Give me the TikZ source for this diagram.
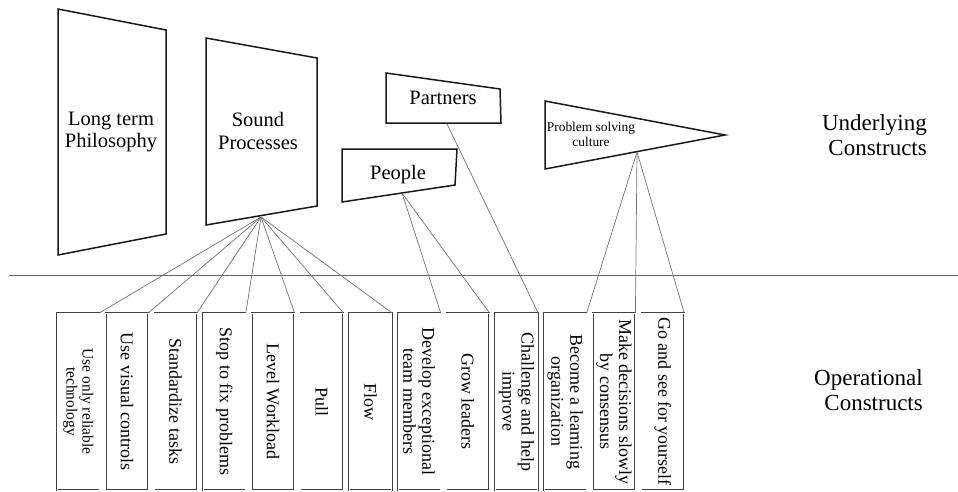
\documentclass[tikz,border=0pt]{standalone}
\usepackage{fontspec}
\setmainfont{Liberation Serif}
\begin{document}
\begin{tikzpicture}[x=1pt,y=-1pt,
  outline/.style={draw=black!90, line width=1.5pt, line join=miter},
  link/.style={draw=black!55, line width=0.7pt},
  divider/.style={draw=black!60, line width=0.9pt},
  bigtext/.style={align=center, inner sep=0pt, font=\fontsize{20.5}{22.5}\selectfont},
  sidetext/.style={align=right, inner sep=0pt, anchor=east, font=\fontsize{23}{25}\selectfont},
  opbox/.style={draw=black!75, line width=0.45pt, double=white, double distance=0.8pt,
                minimum width=42.5pt, minimum height=177pt, inner sep=0pt},
  optext/.style={rotate=-90, align=center, inner sep=0pt, font=\fontsize{18}{19}\selectfont},
  smalltext/.style={rotate=-90, align=center, inner sep=0pt, font=\fontsize{15.5}{16}\selectfont}]
\useasboundingbox (0,0) rectangle (958,491);

% underlying constructs: skewed panels
\draw[outline] (58,9) -- (166,30) -- (166,234) -- (58,255) -- cycle;
\node[bigtext] (ltp) at (111,132) {Long term\\Philosophy};

\draw[outline] (206,38) -- (317,58) -- (317,206) -- (206,225) -- cycle;
\node[bigtext] (sp) at (258,131) {Sound\\Processes};
\coordinate (spfoot) at (261,217);

\draw[outline] (386,73) -- (500,89) -- (501,123) -- (386,123) -- cycle;
\node[bigtext] (partners) at (443,98) {Partners};
\coordinate (pafoot) at (447,124);

\draw[outline] (342,149) -- (457,149) -- (455,185) -- (342,202) -- cycle;
\node[bigtext] (people) at (398,175) {People};
\coordinate (pefoot) at (402,193);

\draw[outline] (545,101) -- (725,135) -- (545,169) -- cycle;
\node[align=center, inner sep=0pt, font=\fontsize{13.4}{15}\selectfont] (psc) at (591,134) {Problem solving\\culture};
\coordinate (pscfoot) at (637,152);

% layer separator
\coordinate (divL) at (9,275);
\coordinate (divR) at (958,275);
\draw[divider] (divL) -- (divR);

% layer labels
\node[sidetext] (ulab) at (927,135) {Underlying\\Constructs};
\node[sidetext] (olab) at (923,390) {Operational\\Constructs};

% operational constructs: vertical boxes
\foreach \i in {1,...,13} {
  \node[opbox] (b\i) at ({57+21.25+48.7*(\i-1)},401.5) {};
}
\node[smalltext] (t1) at (b1.center) {Use only reliable\\technology};
\node[optext] (t2) at (b2.center) {Use visual controls};
\node[optext] (t3) at (b3.center) {Standardize tasks};
\node[optext] (t4) at (b4.center) {Stop to fix problems};
\node[optext] (t5) at (b5.center) {Level Workload};
\node[optext] (t6) at (b6.center) {Pull};
\node[optext] (t7) at (b7.center) {Flow};
\node[optext] (t8) at (b8.center) {Develop exceptional\\team members};
\node[optext] (t9) at (b9.center) {Grow leaders};
\node[optext] (t10) at (b10.center) {Challenge and help\\improve};
\node[optext] (t11) at (b11.center) {Become a learning\\organization};
\node[optext] (t12) at (b12.center) {Make decisions slowly\\by consensus};
\node[optext] (t13) at (b13.center) {Go and see for yourself};

% links from each construct to its practices
\foreach \i in {1,...,7} { \draw[link] (spfoot) -- (b\i.north east); }
\draw[link] (pefoot) -- (b8.north east);
\draw[link] (pefoot) -- (b9.north east);
\draw[link] (pafoot) -- (b10.north east);
\foreach \i in {11,12,13} { \draw[link] (pscfoot) -- (b\i.north east); }
\end{tikzpicture}
\end{document}
